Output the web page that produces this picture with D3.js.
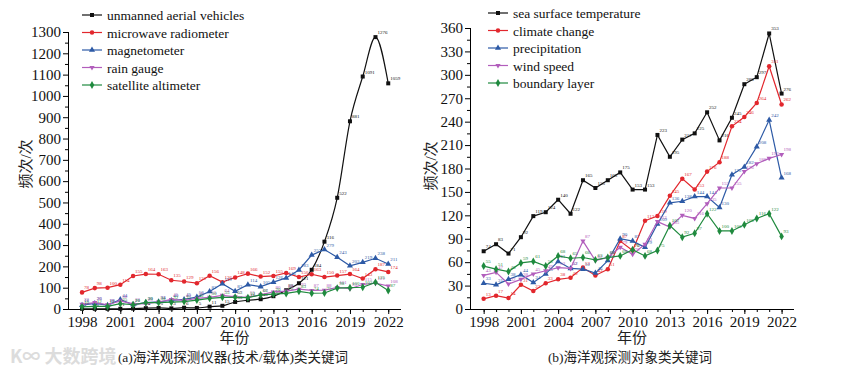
<!DOCTYPE html>
<html>
<head>
<meta charset="utf-8">
<script src="https://cdn.jsdelivr.net/npm/d3@7"></script>
<style>
  body { margin: 0; background: #fff; }
  svg { display: block; }
</style>
</head>
<body>
<div id="chart-area"></div>
<script>
// Years shared by both panels
const years = [1998, 1999, 2000, 2001, 2002, 2003, 2004, 2005, 2006, 2007, 2008, 2009, 2010,
  2011, 2012, 2013, 2014, 2015, 2016, 2017, 2018, 2019, 2020, 2021, 2022];
const yearTicks = [1998, 2001, 2004, 2007, 2010, 2013, 2016, 2019, 2022];

// Panel (a): instruments
const uavCounts = [1, 1, 1, 1, 2, 4, 5, 3, 6, 5, 11, 15, 33, 41, 46, 60, 88, 121, 184, 316, 522, 881, 1091, 1276, 1059];
const microwaveCounts = [78, 98, 100, 114, 155, 164, 163, 135, 129, 121, 156, 126, 148, 166, 152, 155, 169, 150, 163, 150, 157, 164, 143, 187, 174];
const magnetometerCounts = [18, 26, 18, 44, 21, 30, 34, 40, 45, 56, 82, 119, 83, 114, 105, 126, 146, 183, 253, 279, 243, 203, 219, 238, 211];
const rainGaugeCounts = [22, 30, 20, 38, 23, 25, 33, 45, 40, 50, 55, 64, 57, 55, 67, 80, 84, 93, 87, 88, 101, 95, 115, 121, 108];
const altimeterCounts = [10, 12, 12, 25, 20, 30, 30, 32, 35, 42, 50, 55, 55, 53, 66, 70, 73, 83, 74, 75, 98, 100, 102, 125, 87];
const yTicksA = [0, 100, 200, 300, 400, 500, 600, 700, 800, 900, 1000, 1100, 1200, 1300];

// Panel (b): observed objects
const sstCounts = [74, 83, 71, 92, 119, 124, 140, 122, 165, 155, 165, 175, 153, 153, 223, 195, 217, 225, 252, 216, 245, 288, 297, 353, 276];
const climateCounts = [13, 17, 14, 31, 23, 33, 38, 40, 53, 43, 51, 87, 75, 113, 119, 145, 167, 153, 176, 188, 234, 246, 264, 311, 262];
const precipCounts = [33, 31, 38, 44, 34, 45, 61, 52, 51, 46, 62, 90, 87, 79, 109, 136, 138, 144, 144, 130, 172, 182, 208, 242, 168];
const windCounts = [43, 47, 32, 38, 45, 49, 53, 52, 87, 62, 66, 79, 70, 83, 112, 105, 120, 116, 135, 155, 155, 176, 186, 193, 198];
const boundaryCounts = [55, 51, 48, 59, 61, 55, 68, 65, 66, 63, 66, 68, 76, 68, 75, 107, 92, 97, 122, 100, 100, 108, 116, 122, 93];
const yTicksB = [0, 30, 60, 90, 120, 150, 180, 210, 240, 270, 300, 330, 360];

const colors = { black: '#111111', red: '#e2272d', blue: '#2d5aa6', purple: '#b25ebc', green: '#1f8a3e' };
const serif = '"Liberation Serif", Tinos, "Times New Roman", "DejaVu Serif", serif';
const cjk = '"Liberation Serif", "Noto Sans CJK SC", serif';

let svg = d3.select('#chart-area')
  .append('svg')
    .attr('width', 848)
    .attr('height', 374);

// watermark in the lower left corner
svg.append('text')
  .attr('x', 10)
  .attr('y', 363)
  .style('font-family', '"Noto Sans CJK SC", sans-serif')
  .style('font-size', '18px')
  .style('font-weight', 'bold')
  .attr('fill', '#dcdcdc')
  .text('K∞ 大数跨境');

function markerPath(shape) {
  if (shape === 'square') return d3.symbol(d3.symbolSquare, 16)();
  if (shape === 'circle') return d3.symbol(d3.symbolCircle, 16)();
  if (shape === 'up') return d3.symbol(d3.symbolTriangle, 16)();
  if (shape === 'down') return 'M-2.6,-1.5L2.6,-1.5L0,3Z';
  return d3.symbol(d3.symbolDiamond, 18)();
}

function drawPanel(opt) {
  let g = svg.append('g');

  let x = d3.scaleLinear().domain([1996.9, 2023]).range([opt.left, opt.right]);
  let y = d3.scaleLinear().domain([0, opt.yMax]).range([opt.bottom, opt.top]);

  // X axis with minor yearly ticks
  g.append('g')
    .attr('transform', 'translate(0,' + opt.bottom + ')')
    .call(d3.axisBottom(x).tickValues(years).tickSize(3).tickFormat(''))
    .call(a => a.select('.domain').remove());
  let xAxis = g.append('g')
    .attr('transform', 'translate(0,' + opt.bottom + ')')
    .call(d3.axisBottom(x).tickValues(yearTicks).tickSize(5).tickPadding(2).tickFormat(d3.format('d')));
  xAxis.select('.domain').attr('d', 'M' + opt.left + ',0.5H' + opt.right);
  xAxis.selectAll('text').style('font-size', '15px').style('font-family', serif).attr('fill', '#111');

  // Y axis with minor ticks halfway
  let step = opt.yTicks[1] - opt.yTicks[0];
  let minor = opt.yTicks.slice(0, -1).map(v => v + step / 2);
  g.append('g')
    .attr('transform', 'translate(' + opt.left + ',0)')
    .call(d3.axisLeft(y).tickValues(minor).tickSize(3).tickFormat(''))
    .call(a => a.select('.domain').remove());
  let yAxis = g.append('g')
    .attr('transform', 'translate(' + opt.left + ',0)')
    .call(d3.axisLeft(y).tickValues(opt.yTicks).tickSize(5).tickPadding(2).tickFormat(d3.format('d')));
  yAxis.select('.domain').attr('d', 'M0.5,' + opt.top + 'V' + opt.bottom);
  yAxis.selectAll('text').style('font-size', '15px').style('font-family', serif).attr('fill', '#111');

  // Axis titles and caption
  g.append('text')
    .attr('transform', 'translate(' + opt.yLabelX + ',' + opt.yLabelY + ') rotate(-90)')
    .attr('text-anchor', 'middle')
    .style('font-family', cjk)
    .style('font-size', '15px')
    .attr('fill', '#222')
    .text('频次/次');
  g.append('text')
    .attr('x', (opt.left + opt.right) / 2)
    .attr('y', 343)
    .attr('text-anchor', 'middle')
    .style('font-family', cjk)
    .style('font-size', '15px')
    .attr('fill', '#222')
    .text('年份');
  g.append('text')
    .attr('x', opt.captionX)
    .attr('y', 362)
    .attr('text-anchor', 'middle')
    .style('font-family', cjk)
    .style('font-size', '13.5px')
    .attr('fill', '#222')
    .text(opt.caption);

  // Series
  opt.series.forEach(function(s) {
    let pts = years.map((yr, i) => ({ year: yr, value: s.values[i] }));
    let line = d3.line()
      .x(d => x(d.year))
      .y(d => y(d.value))
      .curve(s.smooth ? d3.curveMonotoneX : d3.curveLinear);
    g.append('path')
      .datum(pts)
      .attr('fill', 'none')
      .attr('stroke', s.color)
      .attr('stroke-width', 1.2)
      .attr('d', line);
    g.selectAll(null)
      .data(pts)
      .enter()
      .append('path')
      .attr('transform', d => 'translate(' + x(d.year) + ',' + y(d.value) + ')')
      .attr('d', markerPath(s.shape))
      .attr('fill', s.color);
    // tiny value labels next to each point
    g.selectAll(null)
      .data(pts)
      .enter()
      .append('text')
      .attr('x', d => x(d.year) + 2)
      .attr('y', d => y(d.value) - 3)
      .style('font-family', serif)
      .style('font-size', '5px')
      .attr('fill', s.color)
      .text(d => d.value);
  });

  // Legend
  let legend = g.append('g').attr('transform', 'translate(' + opt.legendX + ',' + opt.legendY + ')');
  opt.series.forEach(function(s, i) {
    let row = legend.append('g').attr('transform', 'translate(0,' + (i * 17.5) + ')');
    row.append('line')
      .attr('x1', 0).attr('x2', 20)
      .attr('stroke', s.color)
      .attr('stroke-width', 1.2);
    row.append('path')
      .attr('transform', 'translate(10,0)')
      .attr('d', markerPath(s.shape))
      .attr('fill', s.color);
    row.append('text')
      .attr('x', 25)
      .attr('y', 5)
      .style('font-family', serif)
      .style('font-size', '13.5px')
      .attr('fill', '#111')
      .text(s.name);
  });
}

drawPanel({
  left: 68, right: 401, top: 32, bottom: 309, yMax: 1300, yTicks: yTicksA,
  yLabelX: 31, yLabelY: 164, captionX: 233, legendX: 82, legendY: 15,
  caption: '(a)海洋观探测仪器(技术/载体)类关键词',
  series: [
    { name: 'unmanned aerial vehicles', values: uavCounts, color: colors.black, shape: 'square', smooth: true },
    { name: 'microwave radiometer', values: microwaveCounts, color: colors.red, shape: 'circle' },
    { name: 'magnetometer', values: magnetometerCounts, color: colors.blue, shape: 'up' },
    { name: 'rain gauge', values: rainGaugeCounts, color: colors.purple, shape: 'down' },
    { name: 'satellite altimeter', values: altimeterCounts, color: colors.green, shape: 'star' }
  ]
});

drawPanel({
  left: 470, right: 794, top: 28, bottom: 309, yMax: 360, yTicks: yTicksB,
  yLabelX: 436, yLabelY: 166, captionX: 630, legendX: 488, legendY: 13,
  caption: '(b)海洋观探测对象类关键词',
  series: [
    { name: 'sea surface temperature', values: sstCounts, color: colors.black, shape: 'square' },
    { name: 'climate change', values: climateCounts, color: colors.red, shape: 'circle' },
    { name: 'precipitation', values: precipCounts, color: colors.blue, shape: 'up' },
    { name: 'wind speed', values: windCounts, color: colors.purple, shape: 'down' },
    { name: 'boundary layer', values: boundaryCounts, color: colors.green, shape: 'star' }
  ]
});
</script>
</body>
</html>
